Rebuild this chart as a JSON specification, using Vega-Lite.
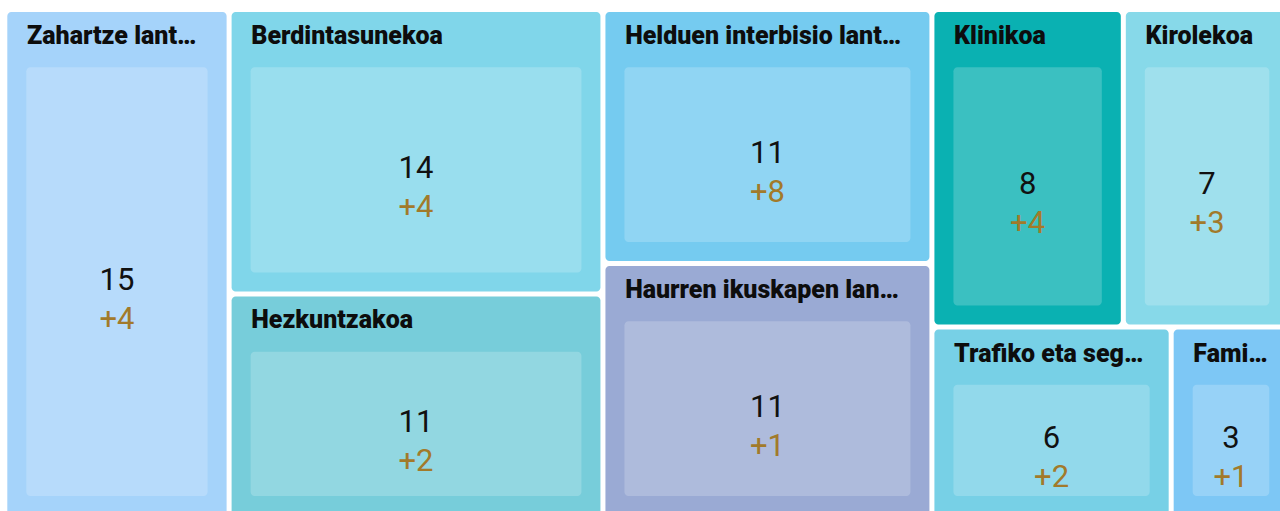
{
  "$schema": "https://vega.github.io/schema/vega-lite/v6.json",
  "width": 1275.2,
  "height": 501.5,
  "autosize": "none",
  "padding": {"left": 4.8, "top": 9.5, "right": 0, "bottom": 0},
  "background": "white",
  "config": {"view": {"stroke": null}},
  "data": {"values": [
    {"name": "Zahartze lant…", "value": 15, "change": 4, "col": 1, "row": 1},
    {"name": "Berdintasunekoa", "value": 14, "change": 4, "col": 2, "row": 1},
    {"name": "Hezkuntzakoa", "value": 11, "change": 2, "col": 2, "row": 2},
    {"name": "Helduen interbisio lant…", "value": 11, "change": 8, "col": 3, "row": 1},
    {"name": "Haurren ikuskapen lan…", "value": 11, "change": 1, "col": 3, "row": 2},
    {"name": "Klinikoa", "value": 8, "change": 4, "col": 4, "row": 1},
    {"name": "Kirolekoa", "value": 7, "change": 3, "col": 4, "row": 1},
    {"name": "Trafiko eta seg…", "value": 6, "change": 2, "col": 4, "row": 2},
    {"name": "Fami…", "value": 3, "change": 1, "col": 4, "row": 2}
  ]},
  "transform": [
    {"joinaggregate": [{"op": "sum", "field": "value", "as": "colTotal"}], "groupby": ["col"]},
    {"joinaggregate": [{"op": "sum", "field": "value", "as": "rowTotal"}], "groupby": ["col", "row"]},
    {"window": [{"op": "sum", "field": "value", "as": "colEnd"}], "sort": [{"field": "col"}], "frame": [null, 0], "ignorePeers": false},
    {"window": [{"op": "sum", "field": "value", "as": "rowEnd"}], "groupby": ["col"], "sort": [{"field": "row"}], "frame": [null, 0], "ignorePeers": false},
    {"window": [{"op": "sum", "field": "value", "as": "itemEnd"}], "groupby": ["col", "row"], "sort": [{"field": "value", "order": "descending"}], "frame": [null, 0], "ignorePeers": true},
    {"calculate": "datum.colEnd - datum.colTotal + datum.colTotal * (datum.itemEnd - datum.value) / datum.rowTotal", "as": "x0"},
    {"calculate": "datum.colEnd - datum.colTotal + datum.colTotal * datum.itemEnd / datum.rowTotal", "as": "x1"},
    {"calculate": "(datum.rowEnd - datum.rowTotal) / datum.colTotal", "as": "y0"},
    {"calculate": "datum.rowEnd / datum.colTotal", "as": "y1"},
    {"calculate": "(datum.x0 + datum.x1) / 2", "as": "xm"},
    {"calculate": "(datum.y0 + datum.y1) / 2", "as": "ym"}
  ],
  "layer": [
    {
      "mark": {"type": "rect", "cornerRadius": 4, "xOffset": 2.5, "x2Offset": -2.5, "yOffset": 2.5, "y2Offset": -2.5},
      "encoding": {
        "x": {"field": "x0", "type": "quantitative", "scale": {"domain": [0, 86], "range": [0, 1286], "nice": false, "zero": false}, "axis": null},
        "x2": {"field": "x1"},
        "y": {"field": "y0", "type": "quantitative", "scale": {"domain": [0, 1], "range": [0, 508], "nice": false, "zero": false}, "axis": null},
        "y2": {"field": "y1"},
        "color": {"field": "name", "type": "nominal", "legend": null, "scale": {
          "domain": ["Zahartze lant…", "Berdintasunekoa", "Hezkuntzakoa", "Helduen interbisio lant…", "Haurren ikuskapen lan…", "Klinikoa", "Kirolekoa", "Trafiko eta seg…", "Fami…"],
          "range": ["#A5D3FA", "#80D6EA", "#77CDDA", "#75CBF0", "#9AAAD4", "#0AB1B2", "#87D9E9", "#77D0E6", "#7DC7F5"]}}
      }
    },
    {
      "mark": {"type": "rect", "cornerRadius": 4, "fill": "white", "fillOpacity": 0.2, "xOffset": 21.5, "x2Offset": -21.5, "yOffset": 57.8, "y2Offset": -21.5},
      "encoding": {
        "x": {"field": "x0", "type": "quantitative", "scale": {"domain": [0, 86], "range": [0, 1286], "nice": false, "zero": false}, "axis": null},
        "x2": {"field": "x1"},
        "y": {"field": "y0", "type": "quantitative", "scale": {"domain": [0, 1], "range": [0, 508], "nice": false, "zero": false}, "axis": null},
        "y2": {"field": "y1"}
      }
    },
    {
      "mark": {"type": "text", "align": "left", "baseline": "alphabetic", "dx": 22.2, "dy": 34.5, "font": "Roboto", "fontSize": 25, "fontWeight": 900, "fill": "#0d0d0d"},
      "encoding": {
        "x": {"field": "x0", "type": "quantitative", "axis": null},
        "y": {"field": "y0", "type": "quantitative", "axis": null},
        "text": {"field": "name"}
      }
    },
    {
      "mark": {"type": "text", "align": "center", "baseline": "alphabetic", "dy": 26, "font": "Roboto", "fontSize": 31, "fontWeight": 400, "fill": "#111111"},
      "encoding": {
        "x": {"field": "xm", "type": "quantitative", "axis": null},
        "y": {"field": "ym", "type": "quantitative", "axis": null},
        "text": {"field": "value", "type": "quantitative"}
      }
    },
    {
      "mark": {"type": "text", "align": "center", "baseline": "alphabetic", "dy": 65, "font": "Roboto", "fontSize": 31, "fontWeight": 400, "fill": "#A27A2A"},
      "encoding": {
        "x": {"field": "xm", "type": "quantitative", "axis": null},
        "y": {"field": "ym", "type": "quantitative", "axis": null},
        "text": {"field": "change", "type": "quantitative", "format": "+d"}
      }
    }
  ]
}
